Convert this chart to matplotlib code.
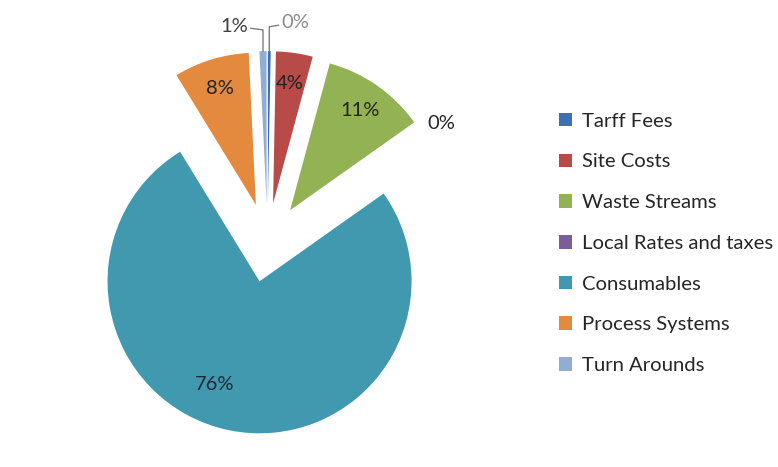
import numpy as np
import matplotlib.pyplot as plt

plt.rcParams['font.family'] = ['Lato', 'DejaVu Sans']

categories = ['Tarff Fees', 'Site Costs', 'Waste Streams', 'Local Rates and taxes',
              'Consumables', 'Process Systems', 'Turn Arounds']
shares = [0.3, 3.9, 11.0, 0.0, 76.05, 8.0, 0.75]
colors = ['#3E6FB0', '#B84A47', '#93B253', '#7A5E9B', '#4199B0', '#E48A3E', '#91ADD4']

fig = plt.figure(figsize=(7.78, 4.67), dpi=100)
ax = fig.add_axes([0, 0, 1, 1])

explode = [0.26] * len(shares)
wedges, _ = ax.pie(shares, colors=colors, startangle=90, counterclock=False,
                   explode=explode, radius=1.0, wedgeprops=dict(linewidth=0))

# pie centre sits at (267, 243) px, radius 152 px
px = 152.0
cx, cy = 267.5, 242.6
ax.set_xlim(-cx / px, (778 - cx) / px)
ax.set_ylim((cy - 467) / px, cy / px)
ax.set_aspect('equal')
ax.axis('off')

fs = 14.5
total = sum(shares)
for i, w in enumerate(wedges):
    mid = np.deg2rad((w.theta1 + w.theta2) / 2)
    ox, oy = w.center
    pct = '%d%%' % round(shares[i] / total * 100)
    name = categories[i]
    if name == 'Consumables':
        ang = mid - np.deg2rad(12)
        ax.text(ox + 0.74 * np.cos(ang), oy + 0.74 * np.sin(ang), pct,
                ha='center', va='center', fontsize=fs, color='#1f2a33')
    elif name == 'Turn Arounds':
        x0, y0 = ox + 1.0 * np.cos(mid), oy + 1.0 * np.sin(mid)
        ax.plot([x0, x0, x0 - 0.08], [y0, y0 + 0.14, y0 + 0.15], color='#7f7f7f', lw=1)
        ax.text(x0 - 0.1, y0 + 0.16, pct, ha='right', va='center',
                fontsize=fs, color='#404040')
    elif name == 'Tarff Fees':
        x0, y0 = ox + 1.0 * np.cos(mid), oy + 1.0 * np.sin(mid)
        ax.plot([x0, x0, x0 + 0.06], [y0, y0 + 0.16, y0 + 0.17], color='#7f7f7f', lw=1)
        ax.text(x0 + 0.08, y0 + 0.19, pct, ha='left', va='center',
                fontsize=fs, color='#8c8c8c')
    elif name == 'Local Rates and taxes':
        ax.text(ox + 1.18 * np.cos(mid) - 0.03, oy + 1.18 * np.sin(mid) - 0.05, pct,
                ha='center', va='center', fontsize=fs, color='#262626')
    else:
        ax.text(ox + 0.8 * np.cos(mid), oy + 0.8 * np.sin(mid), pct,
                ha='center', va='center', fontsize=fs, color='#222222')

leg = fig.legend(wedges, categories, loc='upper left', bbox_to_anchor=(0.708, 0.776),
                 frameon=False, fontsize=14.6, handlelength=0.65, handleheight=0.65,
                 handletextpad=0.5, labelspacing=1.17, borderaxespad=0)
for t in leg.get_texts():
    t.set_color('#262626')

fig.savefig('out.png', dpi=100)
